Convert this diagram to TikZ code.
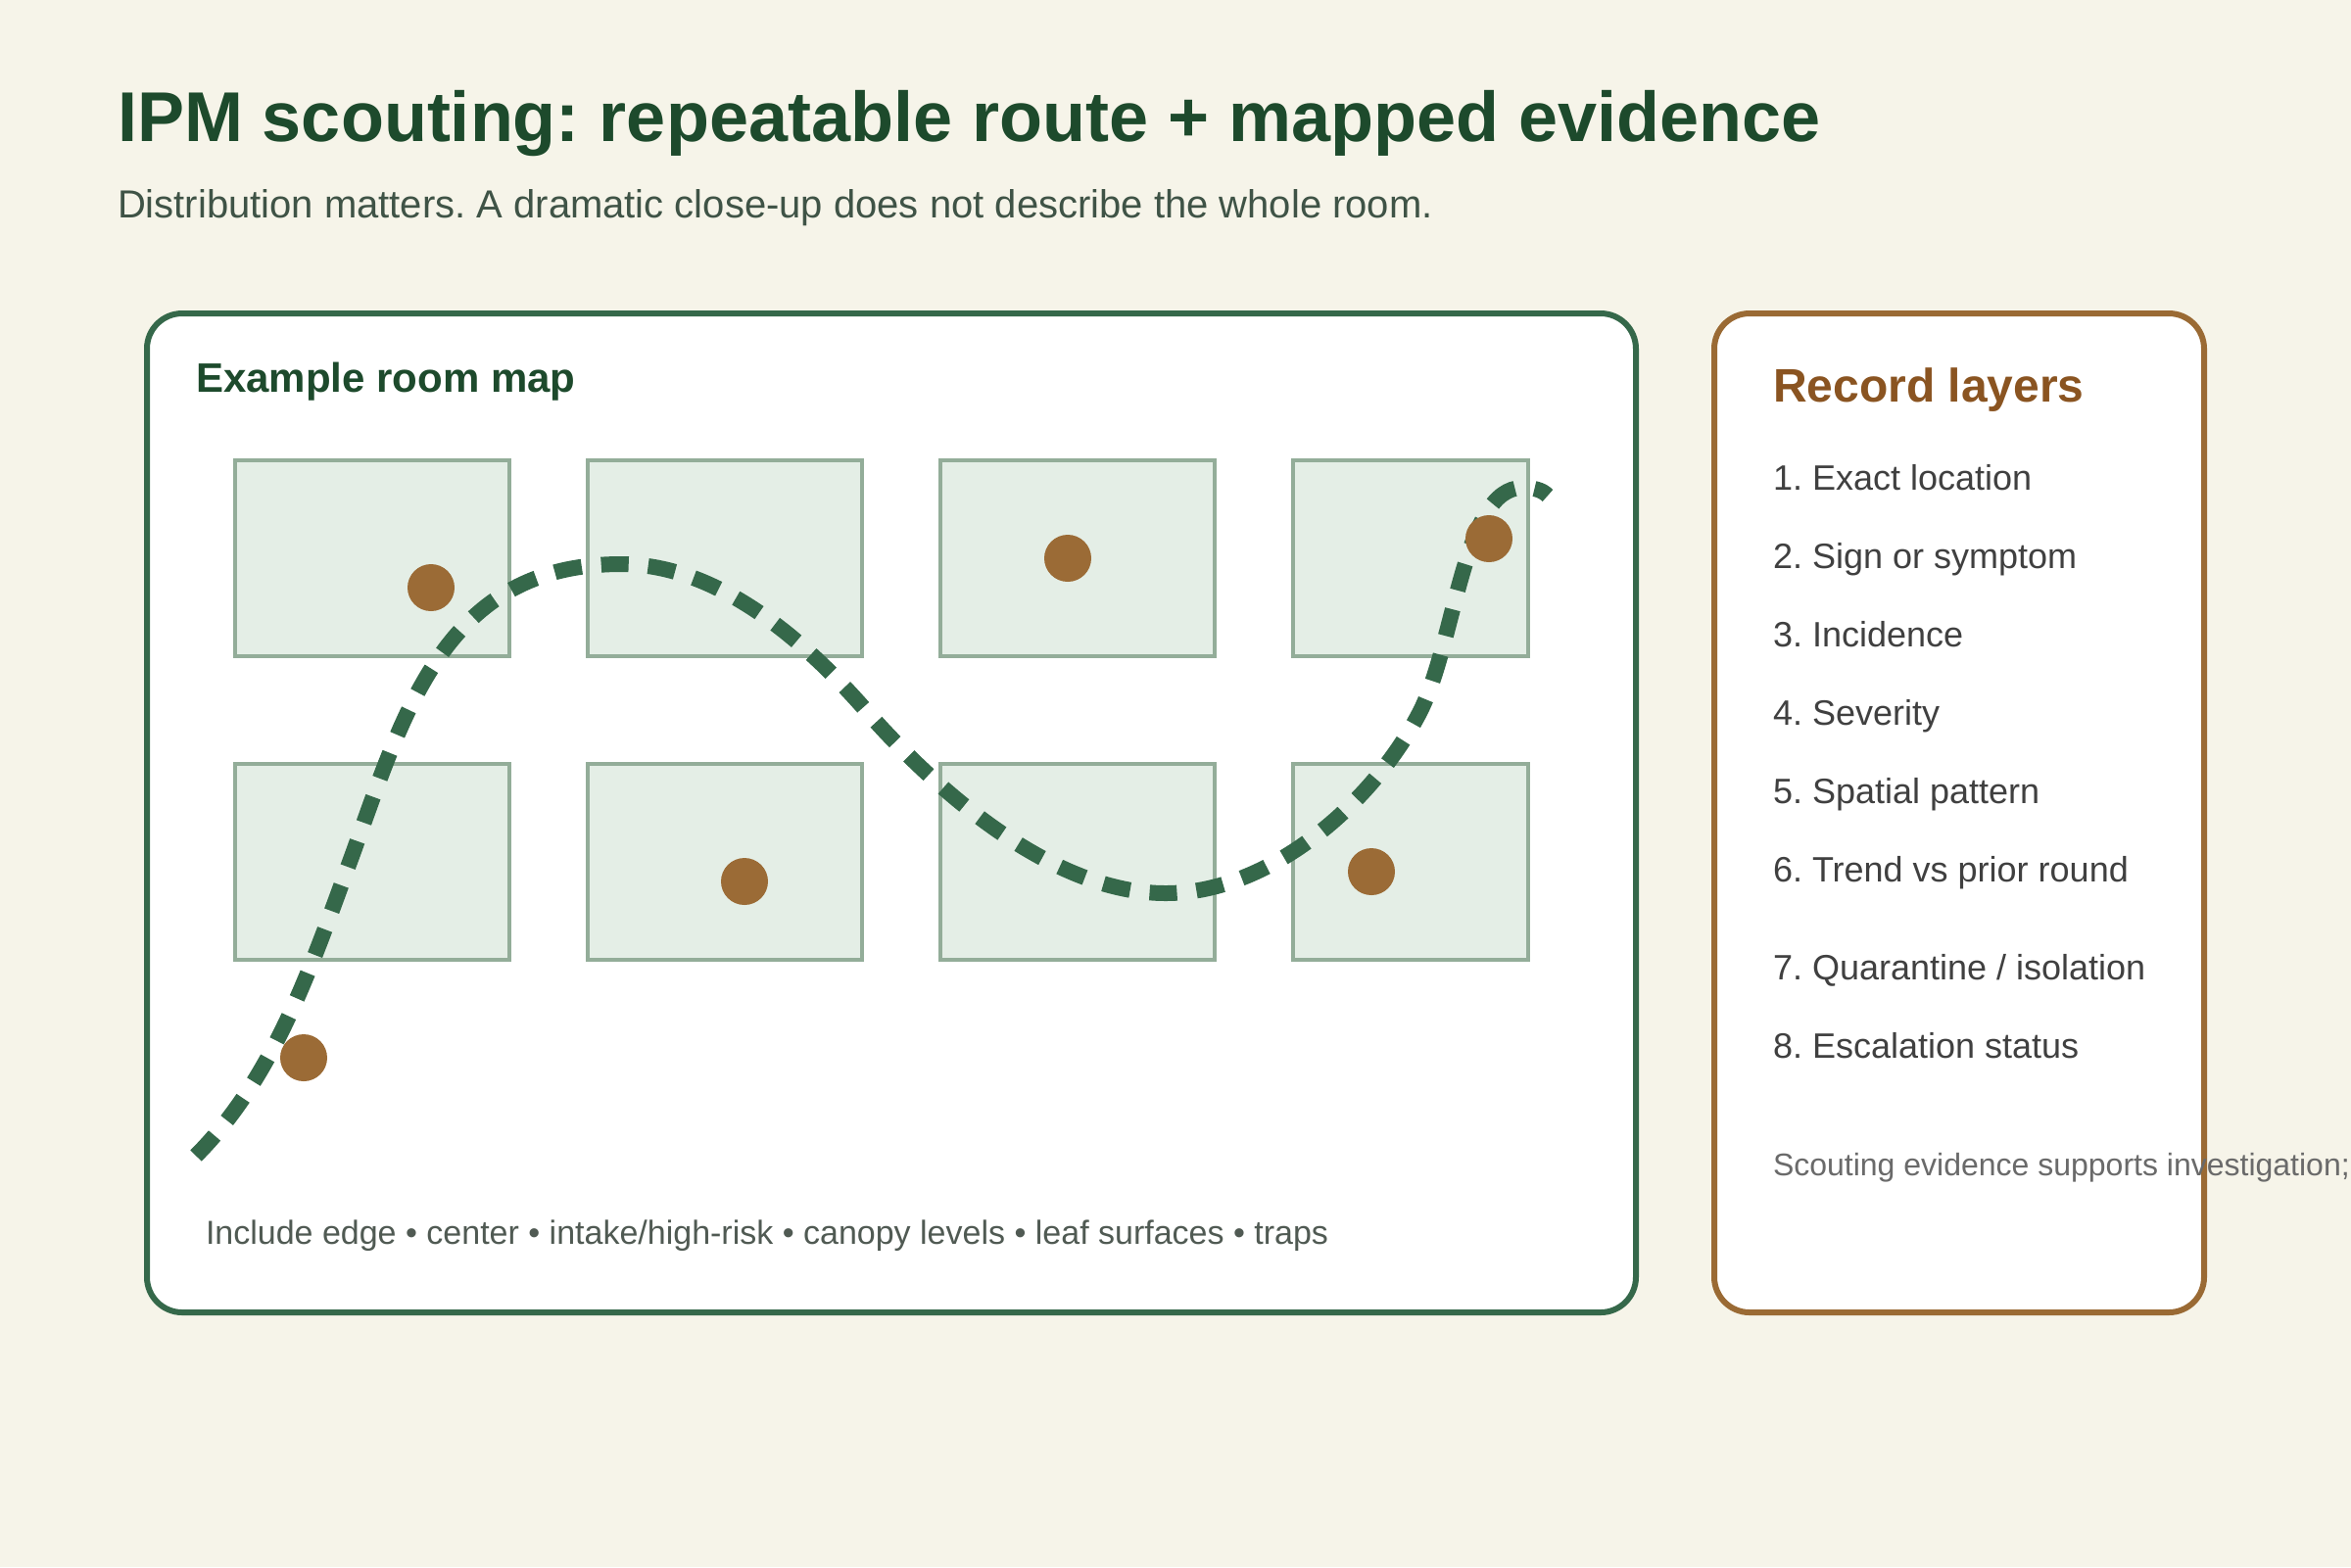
\documentclass[tikz,border=0pt]{standalone}
\usepackage{fontspec}
\setmainfont{Liberation Sans}
\frenchspacing
\newlength{\du}
\setlength{\du}{0.5pt}
\definecolor{pagecream}{HTML}{F6F4E9}
\definecolor{headgreen}{HTML}{1D4A2C}
\definecolor{subgray}{HTML}{3F5346}
\definecolor{routegreen}{HTML}{35684A}
\definecolor{cardbrown}{HTML}{9A6A34}
\definecolor{layerbrown}{HTML}{8A5421}
\definecolor{bedfill}{HTML}{E4EEE6}
\definecolor{bedline}{HTML}{93AD99}
\definecolor{finding}{HTML}{9B6B36}
\definecolor{itemgray}{HTML}{404040}
\definecolor{notegray}{HTML}{505A53}
\definecolor{caveatgray}{HTML}{6A6A6A}

\begin{document}
\begin{tikzpicture}[
  panel/.style={line width=3\du, fill=white, rounded corners=18\du},
  bed/.style={draw=bedline, fill=bedfill, line width=2\du},
  find/.style={circle, fill=finding, inner sep=0pt, minimum size=24\du},
  route/.style={draw=routegreen, line width=8\du, dash pattern=on 14\du off 10\du},
  txt/.style={anchor=base west, inner sep=0pt, outer sep=0pt},
  item/.style={txt, text=itemgray, font=\fontsize{9pt}{11pt}\selectfont}
]
\pgftransformxscale{1.000000}
\pgftransformyscale{-1.000000}
\fill[pagecream] (0\du,0\du) rectangle (1200\du,800\du);
\useasboundingbox (0\du,0\du) rectangle (1200\du,800\du);
% heading
\node[txt, text=headgreen, font=\fontsize{18pt}{21pt}\selectfont\bfseries] (title) at (60\du,72\du){IPM scouting: repeatable route + mapped evidence};
\node[txt, text=subgray, font=\fontsize{10pt}{12pt}\selectfont] (subtitle) at (60\du,111\du){Distribution matters. A dramatic close-up does not describe the whole room.};
% room map panel
\draw[panel, draw=routegreen] (75\du,160\du) rectangle (835\du,670\du);
\node[txt, text=headgreen, font=\fontsize{10.5pt}{12pt}\selectfont\bfseries] (maptitle) at (100\du,200\du){Example room map};
\draw[bed] (120\du,235\du) rectangle (260\du,335\du);
\draw[bed] (300\du,235\du) rectangle (440\du,335\du);
\draw[bed] (480\du,235\du) rectangle (620\du,335\du);
\draw[bed] (660\du,235\du) rectangle (780\du,335\du);
\draw[bed] (120\du,390\du) rectangle (260\du,490\du);
\draw[bed] (300\du,390\du) rectangle (440\du,490\du);
\draw[bed] (480\du,390\du) rectangle (620\du,490\du);
\draw[bed] (660\du,390\du) rectangle (780\du,490\du);
% scouting route
\draw[route] (100\du,590\du) .. controls (141\du,549\du) and (160\du,490\du) .. (180\du,436\du)
  .. controls (207\du,361\du) and (228\du,288\du) .. (317\du,288\du)
  .. controls (367\du,288\du) and (412\du,328\du) .. (444\du,365\du)
  .. controls (477\du,402\du) and (536\du,456\du) .. (595\du,456\du)
  .. controls (648\du,456\du) and (701\du,410\du) .. (725\du,363\du)
  .. controls (743\du,327\du) and (747\du,249\du) .. (777\du,249\du)
  .. controls (783\du,249\du) and (787\du,250\du) .. (790\du,253\du);
% findings
\node[find] (find1) at (220\du,300\du){};
\node[find] (find2) at (545\du,285\du){};
\node[find] (find3) at (760\du,275\du){};
\node[find] (find4) at (380\du,450\du){};
\node[find] (find5) at (700\du,445\du){};
\node[find] (find6) at (155\du,540\du){};
\node[txt, text=notegray, font=\fontsize{8.5pt}{10pt}\selectfont] (mapnote) at (105\du,635\du){Include edge • center • intake/high-risk • canopy levels • leaf surfaces • traps};
% record layers card
\draw[panel, draw=cardbrown] (875\du,160\du) rectangle (1125\du,670\du);
\node[txt, text=layerbrown, font=\fontsize{12pt}{14pt}\selectfont\bfseries] (layerstitle) at (905\du,205\du){Record layers};
\node[item] (layer1) at (905\du,250\du){1. Exact location};
\node[item] (layer2) at (905\du,290\du){2. Sign or symptom};
\node[item] (layer3) at (905\du,330\du){3. Incidence};
\node[item] (layer4) at (905\du,370\du){4. Severity};
\node[item] (layer5) at (905\du,410\du){5. Spatial pattern};
\node[item] (layer6) at (905\du,450\du){6. Trend vs prior round};
\node[item] (layer7) at (905\du,500\du){7. Quarantine / isolation};
\node[item] (layer8) at (905\du,540\du){8. Escalation status};
\node[txt, text=caveatgray, font=\fontsize{8pt}{10pt}\selectfont] (caveat) at (905\du,600\du){Scouting evidence supports investigation;};
\end{tikzpicture}
\end{document}
